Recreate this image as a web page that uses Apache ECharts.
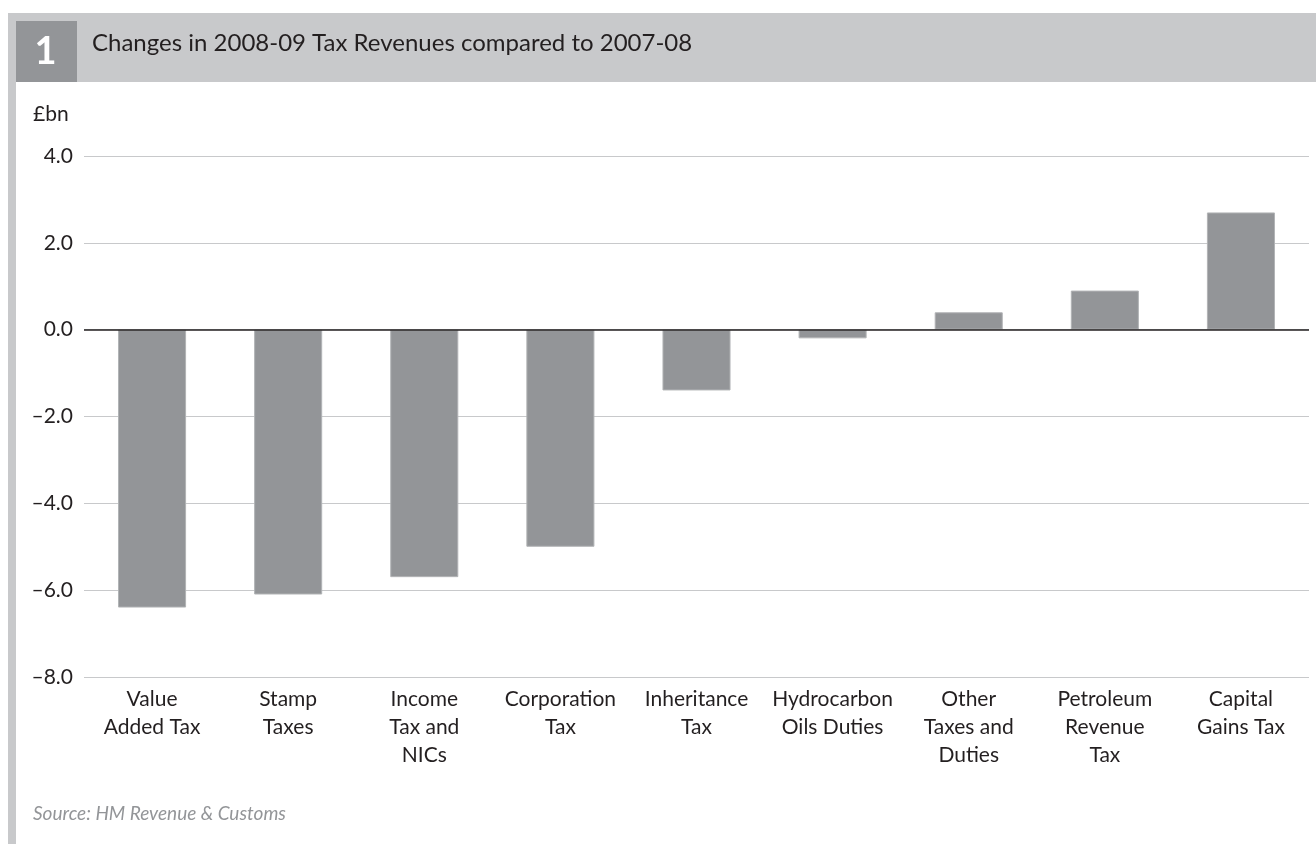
<!DOCTYPE html>
<html>
<head>
<meta charset="utf-8">
<title>Changes in 2008-09 Tax Revenues compared to 2007-08</title>
<script src="https://cdn.jsdelivr.net/npm/echarts@6/dist/echarts.min.js"></script>
<style>
  html, body { margin: 0; padding: 0; background: #ffffff; }
  #chart { width: 1316px; height: 844px; }
</style>
</head>
<body>
<div id="chart"></div>
<script>
// Tax heads, in the order shown
const categories = [
  'Value\nAdded Tax',
  'Stamp\nTaxes',
  'Income\nTax and\nNICs',
  'Corporation\nTax',
  'Inheritance\nTax',
  'Hydrocarbon\nOils Duties',
  'Other\nTaxes and\nDuties',
  'Petroleum\nRevenue\nTax',
  'Capital\nGains Tax'
];

// Change in receipts, £bn
const changes = [-6.4, -6.1, -5.7, -5.0, -1.4, -0.2, 0.4, 0.9, 2.7];

// Value axis range and step
const yTicks = { min: -8, max: 4, step: 2 };

const titleText = 'Changes in 2008-09 Tax Revenues compared to 2007-08';
const chartNumber = '1';
const unitText = '£bn';
const sourceText = 'Source: HM Revenue & Customs';

const FONT = 'Lato, "Noto Sans", sans-serif';
const INK = '#231f20';
const BAR = '#939598';
const FRAME = '#c8c9cb';

const chart = echarts.init(document.getElementById('chart'), null, { renderer: 'canvas' });

chart.setOption({
  backgroundColor: '#ffffff',
  animation: false,
  textStyle: { fontFamily: FONT },
  grid: { left: 84, right: 7, top: 156, bottom: 167, containLabel: false },
  graphic: [
    // header band
    { type: 'rect', left: 8, top: 13, shape: { width: 1308, height: 69 }, style: { fill: FRAME }, silent: true },
    // left frame rule
    { type: 'rect', left: 8, top: 13, shape: { width: 8, height: 831 }, style: { fill: FRAME }, silent: true },
    // number box
    { type: 'rect', left: 16, top: 21, shape: { width: 61, height: 61 }, style: { fill: BAR }, silent: true },
    { type: 'text', x: 45.5, y: 52, style: { text: chartNumber, fill: '#ffffff', font: 'bold 38px ' + FONT, textAlign: 'center', textVerticalAlign: 'middle' }, silent: true },
    // heading
    { type: 'text', x: 92, y: 43, style: { text: titleText, fill: INK, font: '24px ' + FONT, textAlign: 'left', textVerticalAlign: 'middle' }, silent: true },
    // unit
    { type: 'text', x: 33, y: 114, style: { text: unitText, fill: INK, font: '21px ' + FONT, textAlign: 'left', textVerticalAlign: 'middle' }, silent: true },
    // source note
    { type: 'text', x: 33, y: 814, style: { text: sourceText, fill: BAR, font: 'italic 19px ' + FONT, textAlign: 'left', textVerticalAlign: 'middle' }, silent: true }
  ],
  xAxis: {
    type: 'category',
    data: categories,
    position: 'bottom',
    axisLine: { show: false, onZero: false },
    axisTick: { show: false },
    axisLabel: {
      interval: 0,
      color: INK,
      fontSize: 21,
      lineHeight: 28,
      margin: 8,
      fontFamily: FONT
    }
  },
  yAxis: {
    type: 'value',
    min: yTicks.min,
    max: yTicks.max,
    interval: yTicks.step,
    axisLine: { show: false },
    axisTick: { show: false },
    splitLine: { show: true, lineStyle: { color: FRAME, width: 1.2 } },
    axisLabel: {
      color: INK,
      fontSize: 21,
      margin: 11,
      fontFamily: FONT,
      formatter: v => (v < 0 ? '\u2013' : '') + Math.abs(v).toFixed(1)
    }
  },
  series: [{
    type: 'bar',
    data: changes,
    barWidth: '50%',
    itemStyle: { color: BAR, borderColor: '#b1b3b5', borderWidth: 1 },
    markLine: {
      silent: true,
      symbol: 'none',
      label: { show: false },
      lineStyle: { color: INK, width: 1.5, type: 'solid' },
      data: [{ yAxis: 0 }]
    },
    z: 2
  }]
});
</script>
</body>
</html>
